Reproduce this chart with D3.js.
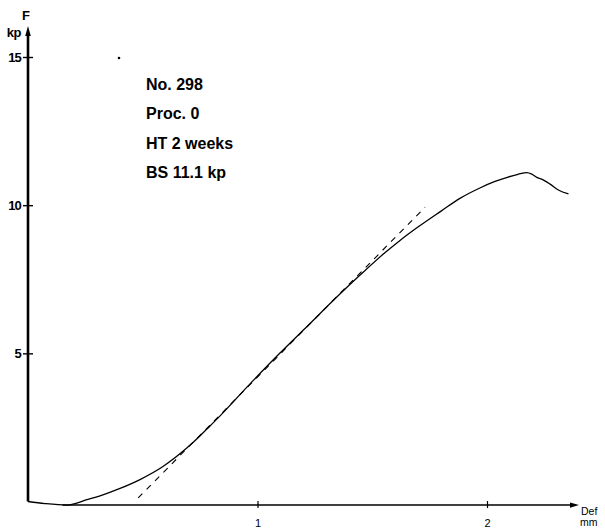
<!DOCTYPE html>
<html>
<head>
<meta charset="utf-8">
<script src="https://cdn.jsdelivr.net/npm/d3@7"></script>
<style>
  html, body { margin: 0; padding: 0; background: #fff; }
  svg { display: block; }
</style>
</head>
<body>
<svg id="chart" width="605" height="528"></svg>
<script>
// Load–deformation record of specimen No. 298
const defMm = [0, 0.074, 0.170, 0.261, 0.314, 0.401, 0.488, 0.588, 0.693, 0.749, 0.793, 0.837, 0.954, 1.098, 1.207, 1.359, 1.447, 1.547, 1.621, 1.699, 1.800, 1.882, 1.969, 2.035, 2.092, 2.135, 2.174, 2.195, 2.217, 2.238, 2.275, 2.311, 2.355];
const forceKp = [0, -0.07, -0.12, 0.07, 0.19, 0.44, 0.74, 1.18, 1.81, 2.21, 2.55, 2.89, 3.86, 5.01, 5.84, 7.00, 7.64, 8.34, 8.81, 9.26, 9.80, 10.23, 10.58, 10.80, 10.95, 11.04, 11.1, 11.05, 10.94, 10.88, 10.71, 10.51, 10.38];

// Tangent drawn along the linear part of the curve
const tangentDef = [0.48, 1.73];
const tangentKp = [0.12, 9.93];

const xTicks = [1, 2];
const yTicks = [5, 10, 15];
const infoLines = ["No. 298", "Proc. 0", "HT 2 weeks", "BS 11.1 kp"];

const svg = d3.select("#chart");

const x = d3.scaleLinear().domain([0, 1]).range([28, 257.5]);
const y = d3.scaleLinear().domain([0, 15]).range([501.5, 57]);
const yBase = y(-0.12);   // level of the deformation axis line

const ink = "#000";
const font = "Liberation Sans, Arial, sans-serif";

// ---- axes ----
// vertical force axis with arrow
svg.append("line")
  .attr("x1", x(0)).attr("x2", x(0))
  .attr("y1", y(0)).attr("y2", 34)
  .attr("stroke", ink).attr("stroke-width", 2.6);
svg.append("path")
  .attr("d", `M${x(0) - 2.8},36 L${x(0)},26 L${x(0) + 2.8},36 Z`)
  .attr("fill", ink);

// horizontal deformation axis with arrow
svg.append("line")
  .attr("x1", x(0.15)).attr("x2", 572)
  .attr("y1", yBase).attr("y2", yBase)
  .attr("stroke", ink).attr("stroke-width", 1.6);
svg.append("path")
  .attr("d", `M570,${yBase - 2.6} L579,${yBase} L570,${yBase + 2.6} Z`)
  .attr("fill", ink);

// force ticks and labels
const yAxis = svg.append("g")
  .attr("transform", `translate(${x(0)},0)`)
  .call(d3.axisLeft(y).tickValues(yTicks).tickFormat(d3.format("d")).tickSize(5).tickPadding(2));
yAxis.select(".domain").remove();
yAxis.selectAll(".tick line")
  .attr("x1", -5).attr("x2", 5)
  .attr("stroke", ink).attr("stroke-width", 1.4);
yAxis.selectAll(".tick text")
  .attr("font-family", font)
  .attr("font-size", 13).attr("font-weight", "bold")
  .attr("letter-spacing", -0.8)
  .attr("fill", ink);

// deformation ticks and labels
const xAxis = svg.append("g")
  .attr("transform", `translate(0,${yBase})`)
  .call(d3.axisBottom(x).tickValues(xTicks).tickFormat(d3.format("d")).tickSize(4).tickPadding(3));
xAxis.select(".domain").remove();
xAxis.selectAll(".tick line")
  .attr("y1", -4).attr("y2", 3)
  .attr("stroke", ink).attr("stroke-width", 1.2);
xAxis.selectAll(".tick text")
  .attr("y", 21.5).attr("dy", 0)
  .attr("font-family", font)
  .attr("font-size", 11)
  .attr("fill", ink);

// axis titles
svg.append("text").text("F")
  .attr("x", 26).attr("y", 20).attr("text-anchor", "middle")
  .attr("font-family", font).attr("font-size", 13).attr("font-weight", "bold");
svg.append("text").text("kp")
  .attr("x", 21).attr("y", 37).attr("text-anchor", "end")
  .attr("font-family", font).attr("font-size", 13).attr("font-weight", "bold")
  .attr("letter-spacing", -0.5);
svg.append("text").text("Def")
  .attr("x", 581).attr("y", 514.5)
  .attr("font-family", font).attr("font-size", 10.5);
svg.append("text").text("mm")
  .attr("x", 580).attr("y", 525.5)
  .attr("font-family", font).attr("font-size", 10.5);

// ---- specimen information ----
svg.append("g")
  .selectAll("text")
  .data(infoLines)
  .join("text")
  .text(d => d)
  .attr("x", 146)
  .attr("y", (d, i) => 90 + i * 29.3)
  .attr("font-family", font)
  .attr("font-size", 16)
  .attr("font-weight", "bold")
  .attr("fill", ink);

// small ink dot near the top of the sheet
svg.append("circle").attr("cx", 119).attr("cy", 58).attr("r", 1.3).attr("fill", ink);

// ---- tangent (dashed) ----
const tangentPts = tangentDef.map((d, i) => [d, tangentKp[i]]);
svg.append("path")
  .datum(tangentPts)
  .attr("d", d3.line().x(d => x(d[0])).y(d => y(d[1])))
  .attr("fill", "none")
  .attr("stroke", ink)
  .attr("stroke-width", 1.1)
  .attr("stroke-dasharray", "6,6");

// ---- measured curve ----
const curvePts = defMm.map((d, i) => [d, forceKp[i]]);
svg.append("path")
  .datum(curvePts)
  .attr("d", d3.line().x(d => x(d[0])).y(d => y(d[1])).curve(d3.curveMonotoneX))
  .attr("fill", "none")
  .attr("stroke", ink)
  .attr("stroke-width", 1.3)
  .attr("stroke-linejoin", "round");
</script>
</body>
</html>
